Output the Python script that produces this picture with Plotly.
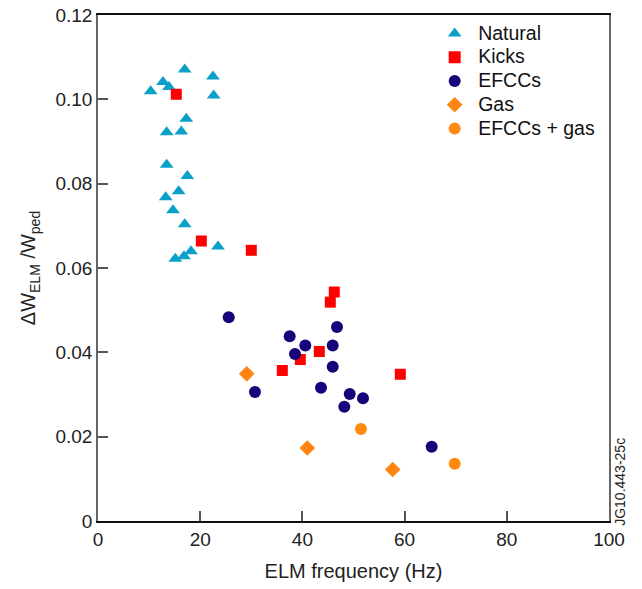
import plotly.graph_objects as go

# ---- data ----
nat_x = [16.97, 22.50, 12.72, 13.89, 10.31, 22.64, 17.28, 13.44, 16.30, 13.44,
         17.48, 15.79, 13.25, 14.68, 16.97, 23.48, 18.20, 16.83, 15.13]
nat_y = [0.1071, 0.1054, 0.1041, 0.1029, 0.1019, 0.1009, 0.0954, 0.0922, 0.0924, 0.0845,
         0.0818, 0.0782, 0.0768, 0.0737, 0.0704, 0.0651, 0.0640, 0.0628, 0.0622]

kick_x = [15.32, 20.22, 30.00, 46.24, 45.46, 43.31, 39.59, 36.07, 59.16]
kick_y = [0.1012, 0.0664, 0.0642, 0.0543, 0.0519, 0.0402, 0.0383, 0.0357, 0.0348]

efcc_x = [25.58, 46.77, 37.51, 40.57, 45.93, 38.55, 45.93, 30.72, 43.64, 49.26, 51.86, 48.20, 65.30]
efcc_y = [0.0483, 0.0460, 0.0438, 0.0416, 0.0416, 0.0396, 0.0366, 0.0306, 0.0316, 0.0301, 0.0291, 0.0271, 0.0176]

gas_x = [29.10, 40.96, 57.67]
gas_y = [0.0349, 0.0173, 0.0122]

efccgas_x = [51.47, 69.80]
efccgas_y = [0.0218, 0.0136]

series_names = ["Natural", "Kicks", "EFCCs", "Gas", "EFCCs + gas"]

x_ticks = [0, 20, 40, 60, 80, 100]
y_ticks = [0, 0.02, 0.04, 0.06, 0.08, 0.10, 0.12]
y_tick_labels = ["0", "0.02", "0.04", "0.06", "0.08", "0.10", "0.12"]

FONT = "Liberation Sans, Arial, sans-serif"


def leg(name):
    return '<span style="font-size:19.5px">' + name + '</span>'


fig = go.Figure()
fig.add_trace(go.Scatter(x=nat_x, y=nat_y, mode="markers", name=leg(series_names[0]),
                         marker=dict(symbol="triangle-up", size=12, color="#0aa0c8")))
fig.add_trace(go.Scatter(x=kick_x, y=kick_y, mode="markers", name=leg(series_names[1]),
                         marker=dict(symbol="square", size=11, color="#ff0000")))
fig.add_trace(go.Scatter(x=efcc_x, y=efcc_y, mode="markers", name=leg(series_names[2]),
                         marker=dict(symbol="circle", size=12, color="#15047a")))
fig.add_trace(go.Scatter(x=gas_x, y=gas_y, mode="markers", name=leg(series_names[3]),
                         marker=dict(symbol="diamond", size=12, color="#ff8410")))
fig.add_trace(go.Scatter(x=efccgas_x, y=efccgas_y, mode="markers", name=leg(series_names[4]),
                         marker=dict(symbol="circle", size=12, color="#ff8a10")))

fig.update_layout(
    width=642, height=589,
    margin=dict(l=98, r=33, t=15, b=68, autoexpand=False),
    paper_bgcolor="white", plot_bgcolor="white",
    font=dict(family=FONT, size=19, color="#222"),
    showlegend=True,
    legend=dict(x=0.652, y=0.997, xanchor="left", yanchor="top", itemwidth=37,
                bgcolor="rgba(0,0,0,0)", font=dict(size=16, family=FONT, color="#111"),
                itemsizing="constant"),
    annotations=[dict(text="JG10.443-25c", xref="paper", yref="paper",
                      x=1.021, y=-0.014, xanchor="center", yanchor="bottom",
                      textangle=-90, showarrow=False,
                      font=dict(size=14, family=FONT, color="#222"))],
)

fig.update_xaxes(range=[0, 100], tickvals=x_ticks, ticks="inside", ticklen=10,
                 tickcolor="#555", tickwidth=1.5, showgrid=False, zeroline=False,
                 showline=True, linecolor="#111", linewidth=1.5, mirror=True, automargin=False,
                 title=dict(text="ELM frequency (Hz)", font=dict(size=20, family=FONT), standoff=15),
                 tickfont=dict(size=19, family=FONT))
fig.update_yaxes(range=[0, 0.12], tickvals=y_ticks, ticktext=y_tick_labels, ticks="inside",
                 ticklen=10, tickcolor="#555", tickwidth=1.5, showgrid=False, zeroline=False,
                 showline=True, linecolor="#666", linewidth=1.5, mirror=True, automargin=False,
                 title=dict(text="ΔW<sub>ELM</sub> /W<sub>ped</sub>", font=dict(size=20, family=FONT), standoff=14),
                 tickfont=dict(size=19, family=FONT))

fig.write_html("out.html")
